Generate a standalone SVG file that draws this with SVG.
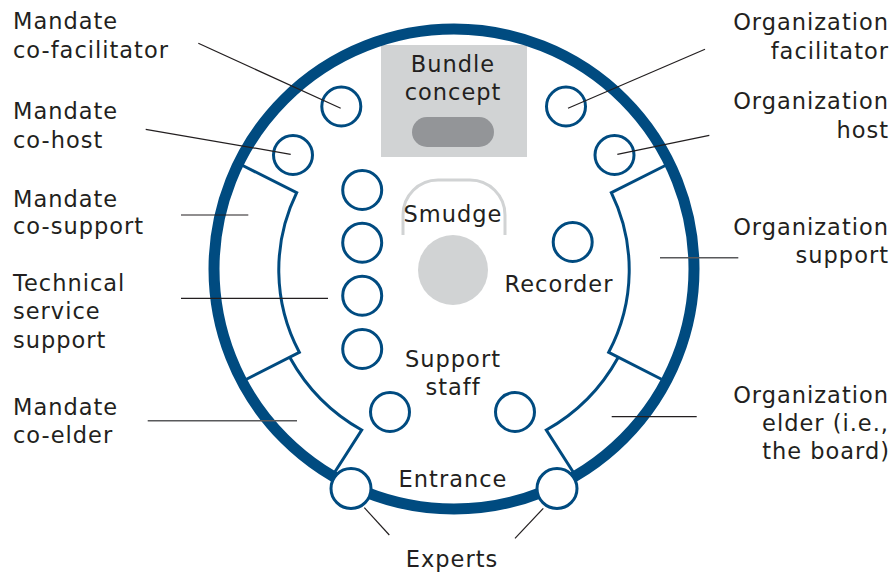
<svg xmlns="http://www.w3.org/2000/svg" width="894" height="573" viewBox="0 0 894 573">
<style>
text{font-family:"DejaVu Sans","Liberation Sans",sans-serif;font-size:22.5px;fill:#231f20;letter-spacing:1px}
.c{text-anchor:middle}
.r{text-anchor:end}
.seat{fill:none;stroke:#004b80;stroke-width:3}
.door{fill:#fff;stroke:#004b80;stroke-width:3}
.wall{fill:none;stroke:#004b80;stroke-width:3;stroke-linejoin:miter}
.lead{stroke:#231f20;stroke-width:1.2;fill:none}
.leadg{stroke:#58595b;stroke-width:1.6;fill:none}
</style>
<rect width="894" height="573" fill="#fff"/>
<g id="bundle-concept">
<rect x="381" y="45" width="146" height="112" fill="#d1d3d4"/>
<rect x="412" y="117" width="82" height="30" rx="15" fill="#939598"/>
<text class="c" x="453" y="72">Bundle</text>
<text class="c" x="453" y="100">concept</text>
</g>
<g id="lodge">
<circle cx="454" cy="269" r="240" fill="none" stroke="#004b80" stroke-width="11"/>
</g>
<g id="mandate-co-support-area">
<path class="wall" d="M241.7,165 L296.7,192.7 A175.5,175.5 0 0 0 299.3,352.3 L245,380"/>
</g>
<g id="mandate-co-elder-area">
<path class="wall" d="M290,357.7 A186,186 0 0 0 361.7,430 L335,471.7"/>
</g>
<g id="organization-support-area">
<path class="wall" d="M666.3,165 L611.3,192.7 A175.5,175.5 0 0 1 608.7,352.3 L663,380"/>
</g>
<g id="organization-elder-area">
<path class="wall" d="M618,357.7 A186,186 0 0 1 546.3,430 L573,471.7"/>
</g>
<g id="smudge">
<path d="M403,235 V215 A35,35 0 0 1 438,180 H470 A35,35 0 0 1 505,215 V235" fill="none" stroke="#d1d3d4" stroke-width="3"/>
<circle cx="453" cy="270" r="35" fill="#d1d3d4"/>
<text class="c" x="453" y="221.5">Smudge</text>
</g>
<g id="mandate-co-facilitator-seat"><circle class="seat" cx="341.3" cy="106.5" r="19.5"/></g>
<g id="mandate-co-host-seat"><circle class="seat" cx="293" cy="155" r="19.5"/></g>
<g id="organization-facilitator-seat"><circle class="seat" cx="566" cy="106.5" r="19.5"/></g>
<g id="organization-host-seat"><circle class="seat" cx="614.5" cy="155" r="19.5"/></g>
<g id="technical-service-support-seats">
<circle class="seat" cx="362.2" cy="190" r="19.5"/>
<circle class="seat" cx="362.2" cy="242.7" r="19.5"/>
<circle class="seat" cx="362.2" cy="295.7" r="19.5"/>
<circle class="seat" cx="362.2" cy="349" r="19.5"/>
</g>
<g id="recorder">
<circle class="seat" cx="572.7" cy="242" r="19.5"/>
<text class="c" x="559" y="292">Recorder</text>
</g>
<g id="support-staff">
<circle class="seat" cx="390" cy="412" r="19.5"/>
<circle class="seat" cx="515" cy="412" r="19.5"/>
<text class="c" x="453" y="367">Support</text>
<text class="c" x="453" y="395">staff</text>
</g>
<g id="entrance">
<text class="c" x="453" y="487">Entrance</text>
</g>
<g id="experts">
<circle class="door" cx="351" cy="488.5" r="20"/>
<circle class="door" cx="557" cy="488.5" r="20"/>
<text class="c" x="452" y="567">Experts</text>
</g>
<g id="label-mandate-co-facilitator"><text x="13" y="29">Mandate</text><text x="13" y="58">co-facilitator</text></g>
<g id="label-mandate-co-host"><text x="13" y="119">Mandate</text><text x="13" y="148">co-host</text></g>
<g id="label-mandate-co-support"><text x="13" y="206.5">Mandate</text><text x="13" y="234">co-support</text></g>
<g id="label-technical-service-support"><text x="13" y="291">Technical</text><text x="13" y="319">service</text><text x="13" y="347.5">support</text></g>
<g id="label-mandate-co-elder"><text x="13" y="415">Mandate</text><text x="13" y="442.5">co-elder</text></g>
<g id="label-organization-facilitator"><text class="r" x="889" y="29.5">Organization</text><text class="r" x="889" y="59">facilitator</text></g>
<g id="label-organization-host"><text class="r" x="889" y="109">Organization</text><text class="r" x="889" y="137.5">host</text></g>
<g id="label-organization-support"><text class="r" x="889" y="234.5">Organization</text><text class="r" x="889" y="262.5">support</text></g>
<g id="label-organization-elder"><text class="r" x="889" y="402.5">Organization</text><text class="r" x="889" y="430.5">elder (i.e.,</text><text class="r" x="890" y="459">the board)</text></g>
<g id="connectors">
<line class="lead" x1="198.3" y1="43.3" x2="340.7" y2="108.3"/>
<line class="lead" x1="145.7" y1="129.3" x2="290.7" y2="154.3"/>
<line class="lead" x1="181" y1="215" x2="248.3" y2="215"/>
<line class="lead" x1="181" y1="298.3" x2="328" y2="298.3"/>
<line class="leadg" x1="147.7" y1="420.7" x2="297" y2="420.7"/>
<line class="lead" x1="705" y1="49.3" x2="568" y2="108.3"/>
<line class="lead" x1="709.3" y1="135.3" x2="617.3" y2="154.3"/>
<line class="leadg" x1="660" y1="257.7" x2="738.3" y2="257.7"/>
<line class="lead" x1="611.7" y1="416.7" x2="696.7" y2="416.7"/>
<line class="lead" x1="364.3" y1="507.7" x2="389.3" y2="535"/>
<line class="lead" x1="543.3" y1="508.3" x2="515" y2="538.3"/>
</g>
</svg>
